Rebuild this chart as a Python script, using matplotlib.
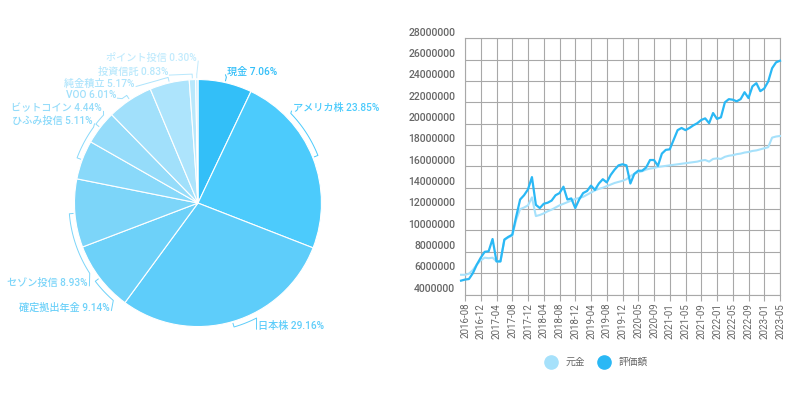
import numpy as np
import pandas as pd
import matplotlib
matplotlib.use("Agg")
import matplotlib.pyplot as plt
from matplotlib.lines import Line2D
from matplotlib.transforms import ScaledTranslation

plt.rcParams['font.family'] = ['Roboto', 'Noto Sans CJK JP', 'DejaVu Sans']
JP = ['Noto Sans CJK JP', 'DejaVu Sans']

# --- pie data ---
asset_names = ['現金', 'アメリカ株', '日本株', '確定拠出年金', 'セゾン投信', 'ひふみ投信',
               'ビットコイン', 'VOO', '純金積立', '投資信託', 'ポイント投信']
asset_shares = [7.06, 23.85, 29.16, 9.14, 8.93, 5.11, 4.44, 6.01, 5.17, 0.83, 0.30]
pie_colors = ['#33bff8', '#4ccbfc', '#5ecdfa', '#6dd1f9', '#7cd5f9', '#89d9fa',
              '#95dcfa', '#a1e0fb', '#ade4fc', '#b8e8fc', '#c2ebfd']

# label text position (pie units), alignment, angle where the leader leaves the bracket
label_layout = [
    (0.235, 1.063, 'left', 12.7),
    (0.769, 0.769, 'left', 46),
    (0.486, -0.996, 'left', 153),
    (-0.713, -0.845, 'right', 221),
    (-0.891, -0.645, 'right', 237),
    (-0.850, 0.666, 'right', 306),
    (-0.777, 0.767, 'right', 313),
    (-0.664, 0.874, 'right', 324),
    (-0.513, 0.969, 'right', 342),
    (-0.243, 1.061, 'right', 357.4),
    (-0.010, 1.174, 'right', 359.5),
]

# --- line data (millions of yen) ---
principal_m = [5.85, 5.85, 5.95, 6.3, 6.8, 7.2, 7.45, 7.4, 7.45, 7.1,
               7.1, 9.1, 9.35, 9.5, 11.0, 12.0, 12.15, 12.35, 13.1, 11.35,
               11.45, 11.6, 11.8, 11.95, 12.15, 12.35, 12.5, 12.65, 12.8, 12.95,
               13.05, 13.15, 13.35, 13.55, 13.75, 13.9, 14.0, 14.15, 14.3, 14.45,
               14.55, 14.65, 14.8, 15.1, 15.3, 15.45, 15.55, 15.7, 15.8, 15.85,
               15.95, 16.0, 16.05, 16.1, 16.15, 16.2, 16.25, 16.3, 16.35, 16.4,
               16.45, 16.55, 16.6, 16.45, 16.7, 16.75, 16.7, 16.9, 17.0, 17.05,
               17.15, 17.2, 17.3, 17.35, 17.45, 17.5, 17.6, 17.7, 17.8, 18.7,
               18.8, 18.85]
valuation_m = [5.3, 5.4, 5.45, 6.0, 6.8, 7.45, 8.0, 8.05, 9.2, 7.1,
               7.1, 9.15, 9.4, 9.6, 11.3, 12.9, 13.3, 13.85, 15.0, 12.4,
               12.1, 12.5, 12.6, 12.8, 13.3, 13.5, 14.1, 12.9, 13.0, 12.1,
               12.9, 13.5, 13.7, 14.2, 13.8, 14.4, 14.8, 14.5, 15.2, 15.7,
               16.1, 16.2, 16.1, 14.4, 15.3, 15.6, 15.6, 15.9, 16.6, 16.6,
               16.05, 17.2, 17.55, 17.6, 18.5, 19.4, 19.6, 19.4, 19.6, 19.85,
               20.05, 20.35, 20.5, 20.05, 21.0, 20.45, 20.6, 22.0, 22.3, 22.25,
               22.1, 22.3, 22.95, 22.4, 23.5, 23.8, 23.05, 23.3, 23.95, 25.2,
               25.75, 25.9]
months = [m for m in pd.period_range('2016-07', '2023-05', freq='M').strftime('%Y-%m')
          if m != '2020-03']
series_names = ['元金', '評価額']
line_colors = ['#a6e1fb', '#2ab8f5']

fig = plt.figure(figsize=(8, 3.93), dpi=100)

# ---------- pie ----------
axp = fig.add_axes([0, 0, 0.5, 1])
axp.pie(asset_shares, colors=pie_colors, startangle=90, counterclock=False,
        wedgeprops=dict(edgecolor='white', linewidth=0.8))
axp.set_aspect('auto')
axp.set_xlim(-1.603, 1.636)
axp.set_ylim(-1.538, 1.644)
axp.axis('off')

shares = np.array(asset_shares)
mids = (np.cumsum(shares) - shares / 2) * 3.6
rb = 1.045
for name, pct, c, m, (tx, ty, ha, a) in zip(asset_names, asset_shares, pie_colors, mids, label_layout):
    th = np.radians(np.linspace(m, a, 30))
    bx = [1.015 * np.sin(np.radians(m))] + list(rb * np.sin(th))
    by = [1.015 * np.cos(np.radians(m))] + list(rb * np.cos(th))
    ex = tx + 0.012 if ha == 'right' else tx - 0.012
    bx.append(ex)
    by.append(ty - 0.025)
    axp.plot(bx, by, color=c, lw=0.7, clip_on=False)
    axp.text(tx, ty, f'{name} {pct:.2f}%', ha=ha, va='center', color=c,
             fontsize=7.3, fontweight='medium',
             family=['Roboto', 'Noto Sans CJK JP', 'DejaVu Sans'])

# ---------- line ----------
axl = fig.add_axes([0.58125, 0.2506, 0.39375, 0.6519])
x = np.arange(len(valuation_m))
axl.plot(x, np.array(principal_m) * 1e6, color=line_colors[0], lw=1.5, clip_on=False, zorder=3)
axl.plot(x, np.array(valuation_m) * 1e6, color=line_colors[1], lw=1.6, clip_on=False, zorder=4)
axl.set_xlim(1, 81)
axl.set_ylim(4e6, 28e6)
yt = np.arange(4000000, 28000001, 2000000)
axl.set_yticks(yt)
axl.set_yticklabels([str(v) for v in yt])
xt = x[1::4]
axl.set_xticks(xt)
axl.set_xticklabels([months[i] for i in xt], rotation=90)
grid_c = '#a8a8a8'
axl.grid(color=grid_c, lw=0.8)
axl.set_axisbelow(True)
for s in axl.spines.values():
    s.set_color(grid_c)
    s.set_linewidth(0.8)
axl.tick_params(axis='x', length=4, color=grid_c, width=0.8, pad=2,
                labelsize=7, labelcolor='#666666')
axl.tick_params(axis='y', length=0, pad=7, labelsize=7.5, labelcolor='#666666')
for lab in axl.get_yticklabels():
    lab.set_fontweight('medium')
    lab.set_transform(lab.get_transform() + ScaledTranslation(0, 0.067, fig.dpi_scale_trans))

handles = [Line2D([], [], marker='o', ls='', ms=9.5, color=c) for c in line_colors]
fig.legend(handles, series_names, loc='center', bbox_to_anchor=(0.743, 0.079), ncol=2,
           frameon=False, prop=dict(family=JP, size=7), labelcolor='#666666',
           handletextpad=0.5, columnspacing=1.0)

fig.savefig('out.png', dpi=100)
